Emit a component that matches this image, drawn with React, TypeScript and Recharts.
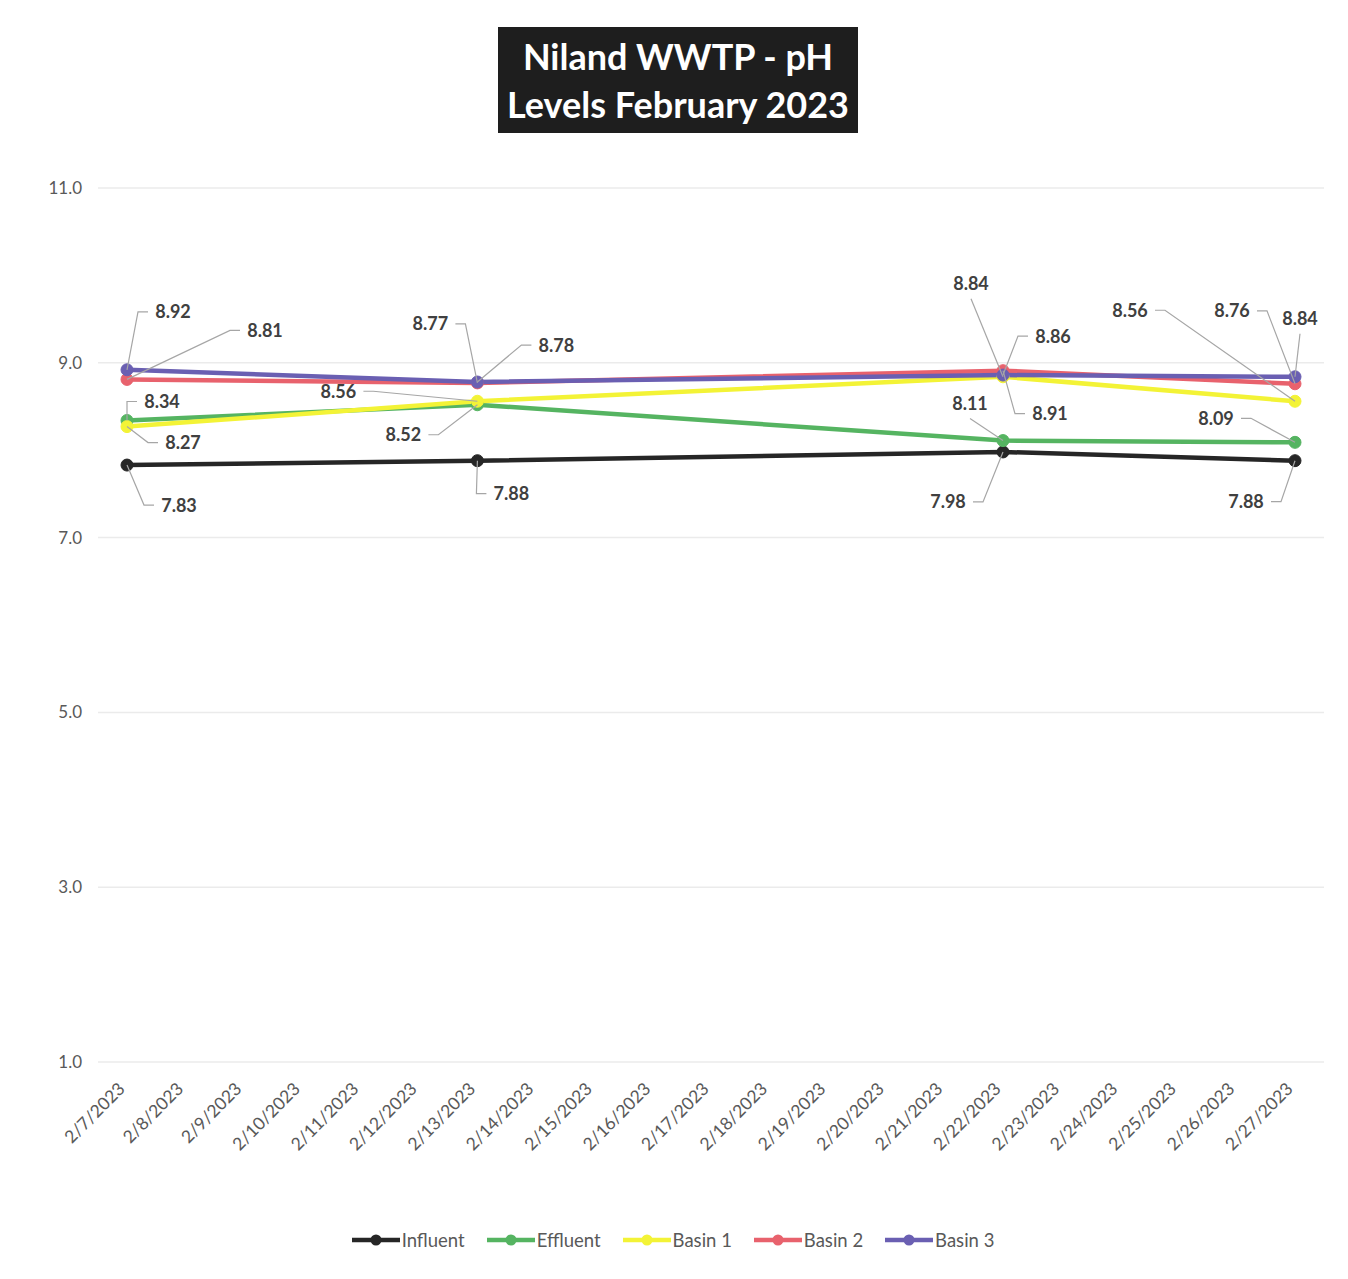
import React from 'react'
import { LineChart, Line, XAxis, YAxis, CartesianGrid, Legend, LabelList } from 'recharts'

// every calendar day on the category axis
const dates = [
  '2/7/2023', '2/8/2023', '2/9/2023', '2/10/2023', '2/11/2023', '2/12/2023', '2/13/2023',
  '2/14/2023', '2/15/2023', '2/16/2023', '2/17/2023', '2/18/2023', '2/19/2023', '2/20/2023',
  '2/21/2023', '2/22/2023', '2/23/2023', '2/24/2023', '2/25/2023', '2/26/2023', '2/27/2023',
]

// days that were actually sampled
const sampleDates = ['2/7/2023', '2/13/2023', '2/22/2023', '2/27/2023']
const influent = [7.83, 7.88, 7.98, 7.88]
const effluent = [8.34, 8.52, 8.11, 8.09]
const basin1 = [8.27, 8.56, 8.84, 8.56]
const basin2 = [8.81, 8.77, 8.91, 8.76]
const basin3 = [8.92, 8.78, 8.86, 8.84]

const yTicks = [1, 3, 5, 7, 9, 11]

const series = [
  { key: 'influent', name: 'Influent', color: '#262626', values: influent },
  { key: 'effluent', name: 'Effluent', color: '#55b461', values: effluent },
  { key: 'basin1', name: 'Basin 1', color: '#f3f336', values: basin1 },
  { key: 'basin2', name: 'Basin 2', color: '#e8626d', values: basin2 },
  { key: 'basin3', name: 'Basin 3', color: '#6a5fb2', values: basin3 },
]

const chartData = dates.map((date) => {
  const i = sampleDates.indexOf(date)
  const row: Record<string, string | number | null> = { date }
  series.forEach((s) => {
    row[s.key] = i >= 0 ? s.values[i] : null
  })
  return row
})

// where each data label sits relative to its point (Excel-style moved labels)
type Placement = { dx: number; dy: number; attach: 'h' | 'v' }
const labelPlacement: Record<string, Record<string, Placement>> = {
  influent: {
    '2/7/2023': { dx: 52, dy: 40, attach: 'h' },
    '2/13/2023': { dx: 34, dy: 33, attach: 'h' },
    '2/22/2023': { dx: -55, dy: 50, attach: 'h' },
    '2/27/2023': { dx: -49, dy: 41, attach: 'h' },
  },
  effluent: {
    '2/7/2023': { dx: 35, dy: -19, attach: 'h' },
    '2/13/2023': { dx: -74, dy: 30, attach: 'h' },
    '2/22/2023': { dx: -33, dy: -37, attach: 'v' },
    '2/27/2023': { dx: -79, dy: -24, attach: 'h' },
  },
  basin1: {
    '2/7/2023': { dx: 56, dy: 16, attach: 'h' },
    '2/13/2023': { dx: -139, dy: -10, attach: 'h' },
    '2/22/2023': { dx: -32, dy: -93, attach: 'v' },
    '2/27/2023': { dx: -165, dy: -91, attach: 'h' },
  },
  basin2: {
    '2/7/2023': { dx: 138, dy: -49, attach: 'h' },
    '2/13/2023': { dx: -47, dy: -59, attach: 'h' },
    '2/22/2023': { dx: 47, dy: 43, attach: 'h' },
    '2/27/2023': { dx: -63, dy: -73, attach: 'h' },
  },
  basin3: {
    '2/7/2023': { dx: 46, dy: -58, attach: 'h' },
    '2/13/2023': { dx: 79, dy: -37, attach: 'h' },
    '2/22/2023': { dx: 50, dy: -39, attach: 'h' },
    '2/27/2023': { dx: 5, dy: -58, attach: 'v' },
  },
}

const FONT = 'Lato, "Open Sans", sans-serif'

const makeLabel = (key: string) => (props: any) => {
  const { value, index } = props
  const x = props.x ?? props.viewBox?.x
  const y = props.y ?? props.viewBox?.y
  if (value == null || x == null || y == null) return null
  const date = chartData[index]?.date as string
  const p = labelPlacement[key]?.[date]
  if (!p) return null
  const cx = x + p.dx
  const cy = y + p.dy
  let d: string
  if (p.attach === 'v') {
    const ey = p.dy < 0 ? cy + 15 : cy - 15
    d = `M${x},${y}L${cx},${ey}`
  } else {
    const side = p.dx > 0 ? -1 : 1
    const ex = cx + side * 25
    const elbow = ex + side * 10
    d = `M${x},${y}L${elbow},${cy}L${ex},${cy}`
  }
  return (
    <g>
      <path d={d} stroke="#a6a6a6" strokeWidth={1.2} fill="none" />
      <text
        x={cx}
        y={cy}
        dy="0.36em"
        textAnchor="middle"
        fontFamily={FONT}
        fontWeight={700}
        fontSize={18}
        fill="#404040"
      >
        {Number(value).toFixed(2)}
      </text>
    </g>
  )
}

const DateTick = (props: any) => {
  const { x, y, payload } = props
  return (
    <text
      transform={`translate(${x - 1},${y + 20}) rotate(-45)`}
      textAnchor="end"
      fontFamily={FONT}
      fontSize={17.5}
      fill="#595959"
    >
      {payload.value}
    </text>
  )
}

const LegendContent = () => (
  <div
    style={{
      display: 'flex',
      justifyContent: 'center',
      alignItems: 'center',
      height: 30,
      fontFamily: FONT,
      fontSize: 18.5,
      color: '#595959',
    }}
  >
    {series.map((s) => (
      <div key={s.key} style={{ display: 'flex', alignItems: 'center', margin: '0 11px' }}>
        <svg width={48} height={14}>
          <line x1={0} y1={7} x2={48} y2={7} stroke={s.color} strokeWidth={4.5} />
          <circle cx={24} cy={7} r={5.5} fill={s.color} />
        </svg>
        <span style={{ marginLeft: 2 }}>{s.name}</span>
      </div>
    ))}
  </div>
)

export default function App() {
  return (
    <div style={{ position: 'relative', width: 1330, height: 1265, background: '#fff' }}>
      <LineChart
        width={1330}
        height={1265}
        data={chartData}
        margin={{ top: 180, right: 14, bottom: 18, left: 0 }}
      >
        <CartesianGrid vertical={false} stroke="#ebebeb" strokeWidth={1.5} />
        <XAxis
          dataKey="date"
          interval={0}
          height={163}
          axisLine={false}
          tickLine={false}
          tickSize={6}
          tickMargin={2}
          padding={{ left: 29, right: 29 }}
          tick={<DateTick />}
        />
        <YAxis
          width={90}
          domain={[1, 11]}
          ticks={yTicks}
          tickFormatter={(v: number) => v.toFixed(1)}
          axisLine={false}
          tickLine={false}
          tickMargin={10}
          tick={{ fill: '#595959', fontSize: 17, fontFamily: FONT }}
        />
        <Legend
          verticalAlign="bottom"
          wrapperStyle={{ height: 30, left: 0, width: 1330 }}
          content={<LegendContent />}
        />
        {series.map((s) => (
          <Line
            key={s.key}
            type="linear"
            dataKey={s.key}
            name={s.name}
            stroke={s.color}
            strokeWidth={4.5}
            dot={{ r: 6, fill: s.color, stroke: s.color, strokeWidth: 1 }}
            activeDot={false}
            connectNulls
            isAnimationActive={false}
          >
            <LabelList dataKey={s.key} content={makeLabel(s.key)} />
          </Line>
        ))}
      </LineChart>
      <div
        style={{
          position: 'absolute',
          left: 490,
          top: 19,
          width: 360,
          height: 106,
          background: '#1e1e1e',
          color: '#fff',
          display: 'flex',
          flexDirection: 'column',
          justifyContent: 'center',
          alignItems: 'center',
          fontFamily: FONT,
          fontWeight: 700,
          fontSize: 36,
          lineHeight: '48px',
          textAlign: 'center',
        }}
      >
        <div>Niland WWTP - pH</div>
        <div>Levels February 2023</div>
      </div>
    </div>
  )
}
